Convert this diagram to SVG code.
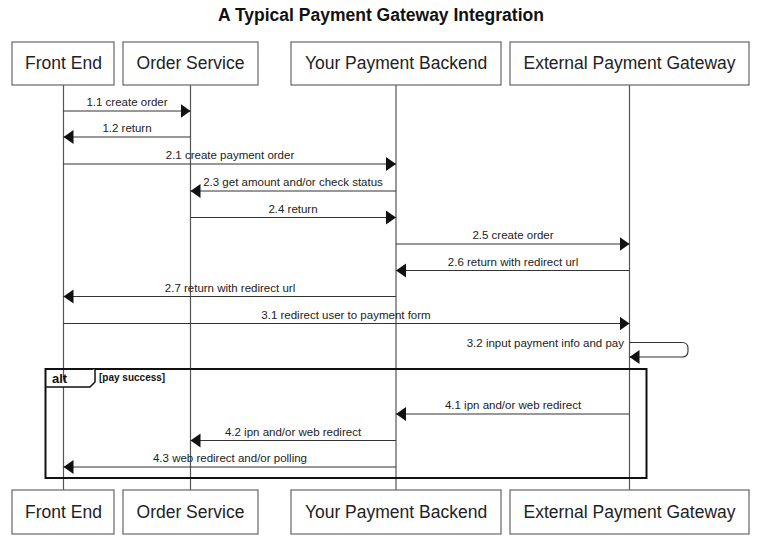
<svg xmlns="http://www.w3.org/2000/svg" width="759" height="544" viewBox="0 0 759 544">
<style>
.box{fill:#fff;stroke:#666;stroke-width:1.2}
.bt{font-family:"Liberation Sans",Arial,sans-serif;font-size:17.5px;fill:#222;text-anchor:middle}
.life{stroke:#555;stroke-width:1.2;fill:none}
.msg{stroke:#333;stroke-width:1.1;fill:none}
.ml{font-family:"Liberation Sans",Arial,sans-serif;font-size:11.5px;fill:#222;text-anchor:middle}
.title{font-family:"Liberation Sans",Arial,sans-serif;font-size:17.5px;font-weight:bold;fill:#111;text-anchor:middle}
</style>
<defs>
<marker id="ah" markerUnits="userSpaceOnUse" markerWidth="12" markerHeight="16" refX="10" refY="7" orient="auto">
<polygon points="0,0 10,7 0,14" fill="#111"/>
</marker>
</defs>
<rect width="759" height="544" fill="#fff"/>
<text class="title" x="381" y="21">A Typical Payment Gateway Integration</text>

<g id="lifelines">
<line class="life" x1="63.5" y1="85" x2="63.5" y2="490"/>
<line class="life" x1="190.5" y1="85" x2="190.5" y2="490"/>
<line class="life" x1="396" y1="85" x2="396" y2="490"/>
<line class="life" x1="629.5" y1="85" x2="629.5" y2="490"/>
</g>

<g id="front-end">
<rect class="box" x="12" y="42" width="102" height="43"/>
<text class="bt" x="63.5" y="69">Front End</text>
<rect class="box" x="12" y="490" width="102" height="44"/>
<text class="bt" x="63.5" y="518">Front End</text>
</g>
<g id="order-service">
<rect class="box" x="123" y="42" width="135" height="43"/>
<text class="bt" x="190.5" y="69">Order Service</text>
<rect class="box" x="123" y="490" width="135" height="44"/>
<text class="bt" x="190.5" y="518">Order Service</text>
</g>
<g id="payment-backend">
<rect class="box" x="291" y="42" width="210" height="43"/>
<text class="bt" x="396" y="69">Your Payment Backend</text>
<rect class="box" x="291" y="490" width="210" height="44"/>
<text class="bt" x="396" y="518">Your Payment Backend</text>
</g>
<g id="payment-gateway">
<rect class="box" x="510" y="42" width="239" height="43"/>
<text class="bt" x="629.5" y="69">External Payment Gateway</text>
<rect class="box" x="510" y="490" width="239" height="44"/>
<text class="bt" x="629.5" y="518">External Payment Gateway</text>
</g>

<g id="alt-frame">
<rect x="45.5" y="369" width="601" height="109" fill="none" stroke="#111" stroke-width="2"/>
<path d="M45.5,387 H90 L95,382 V369" fill="#fff" stroke="#111" stroke-width="1.5"/>
<text x="52" y="383" font-family="Liberation Sans,Arial,sans-serif" font-size="13px" font-weight="bold" fill="#111">alt</text>
<text x="99" y="381" font-family="Liberation Sans,Arial,sans-serif" font-size="10px" font-weight="bold" fill="#111">[pay success]</text>
</g>

<g id="connectors">
<line class="msg" x1="63.5" y1="111" x2="190.5" y2="111" marker-end="url(#ah)"/>
<text class="ml" x="127" y="106">1.1 create order</text>
<line class="msg" x1="190.5" y1="137" x2="63.5" y2="137" marker-end="url(#ah)"/>
<text class="ml" x="127" y="132">1.2 return</text>
<line class="msg" x1="63.5" y1="164" x2="396" y2="164" marker-end="url(#ah)"/>
<text class="ml" x="230" y="159">2.1 create payment order</text>
<line class="msg" x1="396" y1="191" x2="190.5" y2="191" marker-end="url(#ah)"/>
<text class="ml" x="293" y="186">2.3 get amount and/or check status</text>
<line class="msg" x1="190.5" y1="217.5" x2="396" y2="217.5" marker-end="url(#ah)"/>
<text class="ml" x="293" y="212.5">2.4 return</text>
<line class="msg" x1="396" y1="244" x2="629.5" y2="244" marker-end="url(#ah)"/>
<text class="ml" x="513" y="239">2.5 create order</text>
<line class="msg" x1="629.5" y1="270.5" x2="396" y2="270.5" marker-end="url(#ah)"/>
<text class="ml" x="513" y="265.5">2.6 return with redirect url</text>
<line class="msg" x1="396" y1="296.5" x2="63.5" y2="296.5" marker-end="url(#ah)"/>
<text class="ml" x="230" y="291.5">2.7 return with redirect url</text>
<line class="msg" x1="63.5" y1="323.5" x2="629.5" y2="323.5" marker-end="url(#ah)"/>
<text class="ml" x="346" y="318.5">3.1 redirect user to payment form</text>
<path class="msg" d="M629.5,342.5 H682 Q688,342.5 688,348.5 V351 Q688,357 682,357 H629.5" marker-end="url(#ah)"/>
<text class="ml" x="624" y="347" style="text-anchor:end">3.2 input payment info and pay</text>
<line class="msg" x1="629.5" y1="414" x2="396" y2="414" marker-end="url(#ah)"/>
<text class="ml" x="513" y="409">4.1 ipn and/or web redirect</text>
<line class="msg" x1="396" y1="440.5" x2="190.5" y2="440.5" marker-end="url(#ah)"/>
<text class="ml" x="293" y="435.5">4.2 ipn and/or web redirect</text>
<line class="msg" x1="396" y1="467" x2="63.5" y2="467" marker-end="url(#ah)"/>
<text class="ml" x="230" y="462">4.3 web redirect and/or polling</text>
</g>
</svg>
